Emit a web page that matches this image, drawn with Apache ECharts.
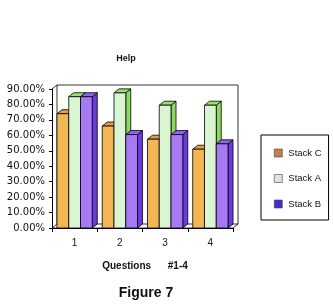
<!DOCTYPE html>
<html>
<head>
<meta charset="utf-8">
<script src="https://cdn.jsdelivr.net/npm/echarts@6/dist/echarts.min.js"></script>
<style>
  html, body { margin: 0; padding: 0; background: #fff; }
  #chart { width: 333px; height: 305px; }
</style>
</head>
<body>
<div id="chart"></div>
<script>
var questions = ['1', '2', '3', '4'];
var stackC = [74, 66, 57.5, 51];
var stackA = [85, 87.5, 79.5, 79.5];
var stackB = [85, 60.5, 60.5, 54.5];
var yTicks = [0, 10, 20, 30, 40, 50, 60, 70, 80, 90];

var DX = 5, DY = 4;

// front, side, top colours for each stack
var colours = {
  'Stack C': { front: '#f3b654', side: '#e29a3e', top: '#e89a48', legend: '#c97b52' },
  'Stack A': { front: '#daf5d2', side: '#8fd860', top: '#9ede6e', legend: '#dfe2de' },
  'Stack B': { front: '#a67af2', side: '#6b3ae0', top: '#8f63ee', legend: '#3f2fc4' }
};

var myChart = echarts.init(document.getElementById('chart'));

function barRenderer(name, idx) {
  var c = colours[name];
  return function(params, api) {
    var cat = api.value(0);
    var base = api.coord([cat, 0]);
    var top = api.coord([cat, api.value(1)]);
    var band = api.size([1, 0])[0];
    var w = band * 0.26;
    var x0 = base[0] - 1.5 * w + idx * w;
    var x1 = x0 + w;
    var line = { stroke: '#000', lineWidth: 0.8 };
    return {
      type: 'group',
      children: [
        { type: 'polygon', shape: { points: [[x1, top[1]], [x1 + DX, top[1] - DY], [x1 + DX, base[1] - DY], [x1, base[1]]] },
          style: echarts.util.extend({ fill: c.side }, line) },
        { type: 'polygon', shape: { points: [[x0, top[1]], [x0 + DX, top[1] - DY], [x1 + DX, top[1] - DY], [x1, top[1]]] },
          style: echarts.util.extend({ fill: c.top }, line) },
        { type: 'rect', shape: { x: x0, y: top[1], width: w, height: base[1] - top[1] },
          style: echarts.util.extend({ fill: c.front }, line) }
      ]
    };
  };
}

function makeSeries(name, values, idx) {
  return {
    name: name,
    type: 'custom',
    renderItem: barRenderer(name, idx),
    itemStyle: { color: colours[name].legend },
    encode: { x: 0, y: 1 },
    data: values.map(function(v, i) { return [i, v]; }),
    z: 3
  };
}

// back wall and floor of the box
var frameSeries = {
  type: 'custom',
  silent: true,
  z: 1,
  data: [[0, 0]],
  renderItem: function(params, api) {
    var g = params.coordSys;
    var l = g.x, r = g.x + g.width, t = g.y, b = g.y + g.height;
    var s = { stroke: '#000', lineWidth: 0.8, fill: null };
    return {
      type: 'group',
      children: [
        { type: 'polyline', shape: { points: [[l + DX, b - DY], [l + DX, t - DY], [r + DX, t - DY], [r + DX, b - DY]] }, style: s },
        { type: 'polyline', shape: { points: [[l, t], [l + DX, t - DY]] }, style: s },
        { type: 'polygon', shape: { points: [[l, b], [l + DX, b - DY], [r + DX, b - DY], [r, b]] },
          style: { stroke: '#000', lineWidth: 0.8, fill: '#fff' } }
      ]
    };
  }
};

var option = {
  animation: false,
  backgroundColor: '#fff',
  textStyle: { fontFamily: 'Liberation Sans, Arial, sans-serif' },
  title: [
    { text: 'Help', left: 121, top: 49, textAlign: 'center',
      textStyle: { fontSize: 9, fontWeight: 'bold', color: '#111' } },
    { text: 'Questions      #1-4', left: 140, top: 256, textAlign: 'center',
      textStyle: { fontSize: 10, fontWeight: 'bold', color: '#111' } },
    { text: 'Figure 7', left: 141, top: 281, textAlign: 'center',
      textStyle: { fontSize: 14, fontWeight: 'bold', color: '#111' } }
  ],
  legend: {
    orient: 'vertical',
    left: 261,
    top: 135,
    padding: [13, 7, 11, 13],
    itemGap: 15.5,
    itemWidth: 8,
    itemHeight: 8,
    borderColor: '#000',
    borderWidth: 1,
    backgroundColor: '#fff',
    icon: 'rect',
    textStyle: { fontSize: 9.5, color: '#111', padding: [0, 0, 0, 1] },
    data: [
      { name: 'Stack C', itemStyle: { color: colours['Stack C'].legend, borderColor: '#444', borderWidth: 0.6 } },
      { name: 'Stack A', itemStyle: { color: colours['Stack A'].legend, borderColor: '#444', borderWidth: 0.6 } },
      { name: 'Stack B', itemStyle: { color: colours['Stack B'].legend, borderColor: '#444', borderWidth: 0.6 } }
    ]
  },
  grid: { left: 52, top: 89, width: 181, height: 139 },
  xAxis: {
    type: 'category',
    data: questions,
    boundaryGap: true,
    axisLine: { lineStyle: { color: '#000', width: 1 } },
    axisTick: { show: true, length: 4, lineStyle: { color: '#000' } },
    axisLabel: { color: '#111', fontSize: 10, margin: 10 }
  },
  yAxis: {
    type: 'value',
    min: yTicks[0],
    max: yTicks[yTicks.length - 1],
    interval: 10,
    axisLine: { show: true, lineStyle: { color: '#000', width: 1 } },
    axisTick: { show: true, length: 3, lineStyle: { color: '#000' } },
    splitLine: { show: false },
    axisLabel: {
      color: '#111',
      fontSize: 10,
      fontFamily: 'DejaVu Sans',
      margin: 7,
      formatter: function(v) { return v.toFixed(2) + '%'; }
    }
  },
  series: [
    frameSeries,
    makeSeries('Stack C', stackC, 0),
    makeSeries('Stack A', stackA, 1),
    makeSeries('Stack B', stackB, 2)
  ]
};

myChart.setOption(option);
</script>
</body>
</html>
